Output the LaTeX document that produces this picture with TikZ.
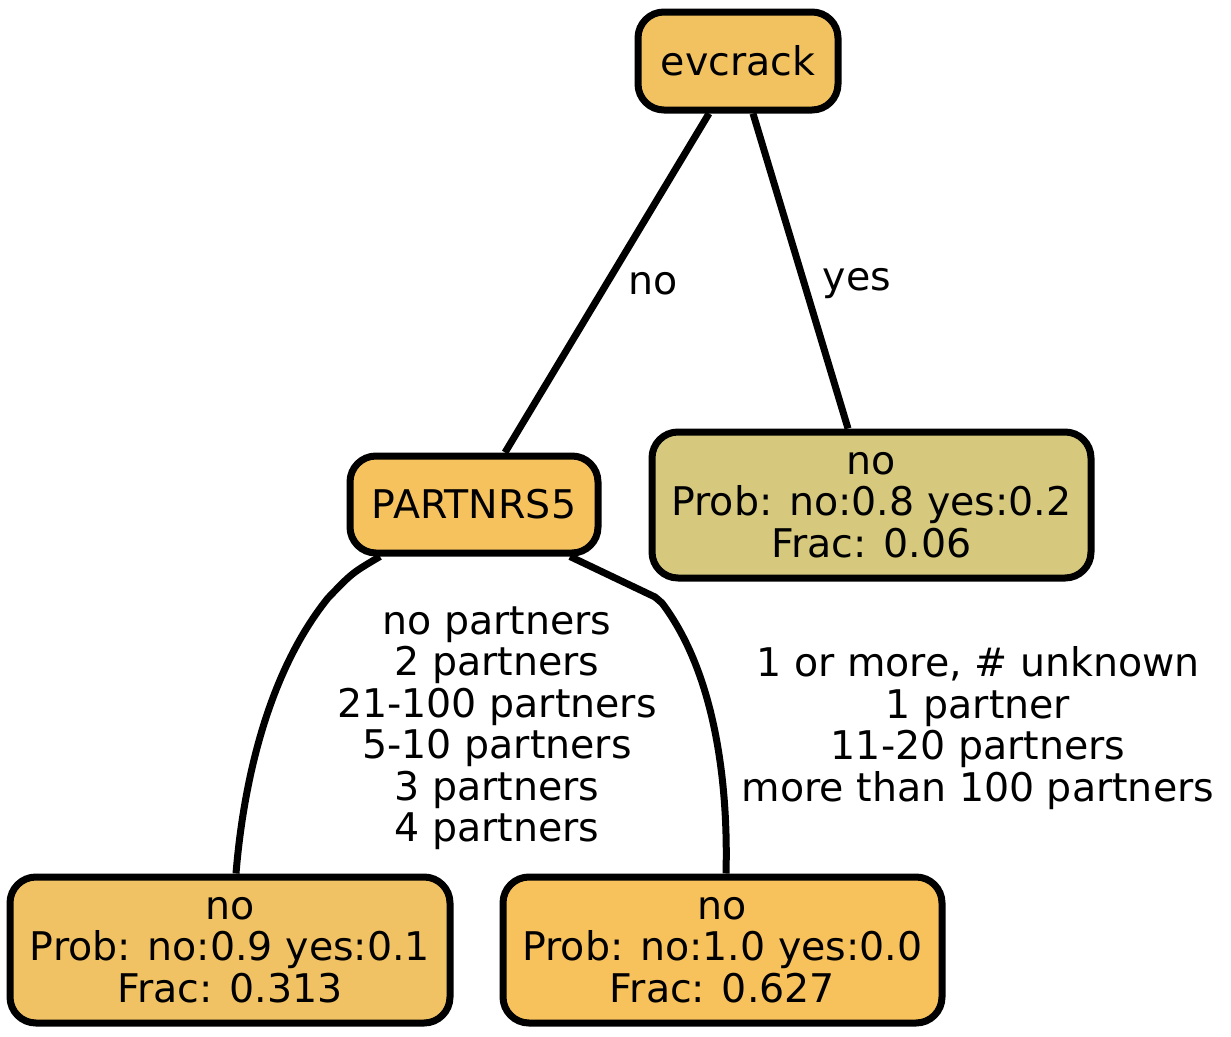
\documentclass[tikz,border=0pt]{standalone}
\usepackage{fontspec}
\setmainfont{DejaVu Sans}
\usetikzlibrary{positioning}
\definecolor{rootcol}{HTML}{F2C261}
\definecolor{splitcol}{HTML}{F6C25E}
\definecolor{leafA}{HTML}{F1C263}
\definecolor{leafB}{HTML}{F7C15C}
\definecolor{leafC}{HTML}{D6C97D}
\tikzset{
  treenode/.style={draw, line width=7pt, rounded corners=26pt, align=center,
    inner sep=0pt, font=\fontsize{39.5}{41.5}\selectfont},
  treeedge/.style={line width=7pt},
  edgelab/.style={align=center, font=\fontsize{39.5}{41.5}\selectfont}
}
\begin{document}
\begin{tikzpicture}[x=1pt,y=-1pt]
\useasboundingbox (0,0) rectangle (1231,1036);
% nodes
\node[treenode, fill=rootcol, minimum width=200pt, minimum height=98pt] (evcrack) at (738,61) {evcrack};
\node[treenode, fill=splitcol, minimum width=248pt, minimum height=97pt] (partnrs) at (474,504.5) {PARTNRS5};
\node[treenode, fill=leafC, minimum width=439pt, minimum height=146pt] (leafyes) at (871.5,505) {no\\Prob: no:0.8 yes:0.2\\Frac: 0.06};
\node[treenode, fill=leafA, minimum width=440pt, minimum height=146pt] (leafone) at (230,950) {no\\Prob: no:0.9 yes:0.1\\Frac: 0.313};
\node[treenode, fill=leafB, minimum width=439pt, minimum height=146pt] (leaftwo) at (722.5,950) {no\\Prob: no:1.0 yes:0.0\\Frac: 0.627};
% edges
\draw[treeedge] (evcrack.south) ++(-29,0) coordinate (ea) -- (partnrs.north -| 505,0);
\draw[treeedge] (evcrack.south) ++(15,0) coordinate (eb) -- (leafyes.north -| 848,0);
\draw[treeedge] (partnrs.south) ++(-94,0) .. controls (352,573) .. (328,598)
  .. controls (262,680) and (242,800) .. (leafone.north -| 236,0);
\draw[treeedge] (partnrs.south) ++(96,0) -- (655,597) -- (662,603)
  .. controls (720,680) and (728,800) .. (leaftwo.north -| 726,0);
% labels
\node[edgelab] (labno) at (653,284) {no};
\node[edgelab] (labyes) at (857,284) {yes};
\node[edgelab] (labsmall) at (497,728) {no partners\\2 partners\\21-100 partners\\5-10 partners\\3 partners\\4 partners};
\node[edgelab] (labbig) at (978,728) {1 or more, \# unknown\\1 partner\\11-20 partners\\more than 100 partners};
\end{tikzpicture}
\end{document}
